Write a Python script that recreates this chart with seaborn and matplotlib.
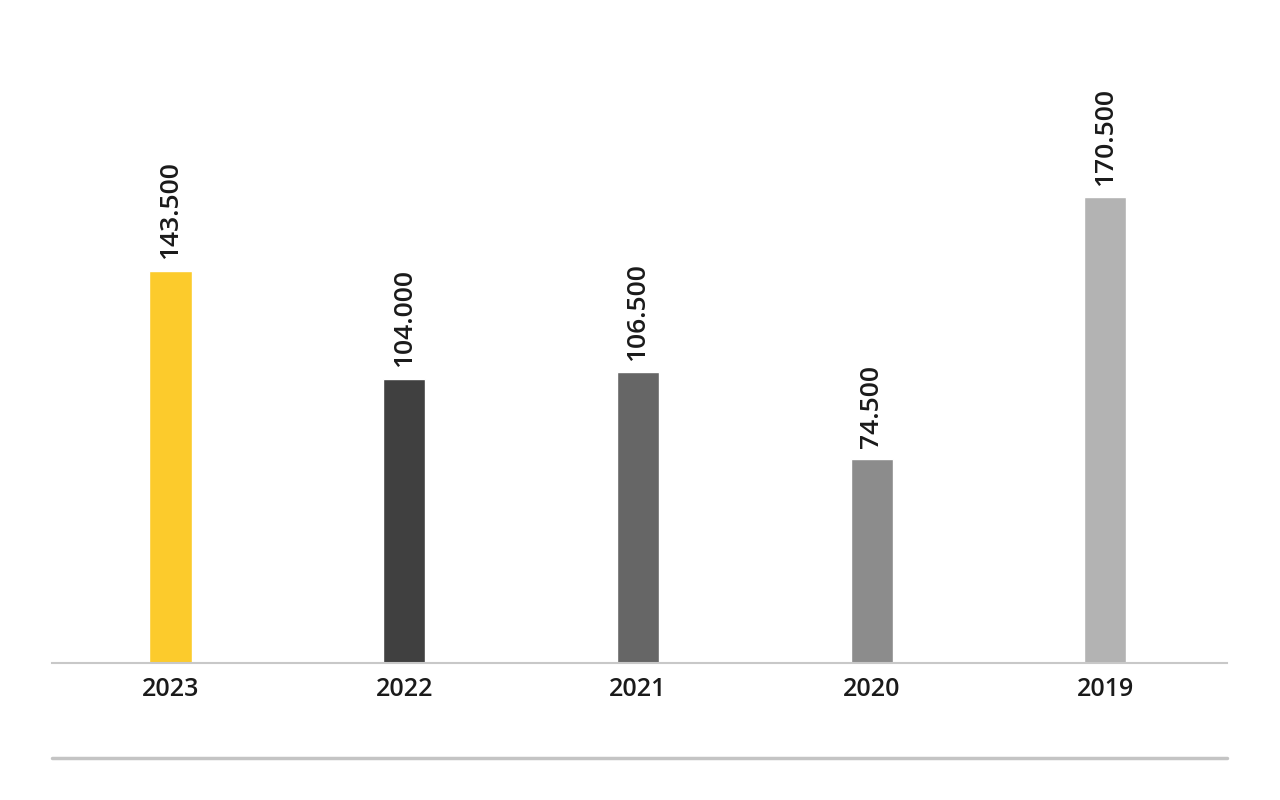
"""
plot.py

Yearly values as narrow bars with rotated value labels.
"""

import matplotlib.pyplot as plt
import pandas as pd
import seaborn as sns
from matplotlib.lines import Line2D

years = ["2023", "2022", "2021", "2020", "2019"]
values = [143.5, 104.0, 106.5, 74.5, 170.5]
labels = ["143.500", "104.000", "106.500", "74.500", "170.500"]
colors = ["#FCCB2C", "#404040", "#666666", "#8C8C8C", "#B3B3B3"]


def main():
    sns.set_theme(style="white")
    plt.rcParams["font.family"] = ["Open Sans", "DejaVu Sans"]

    df = pd.DataFrame({"Year": years, "Value": values})

    fig = plt.figure(figsize=(12.8, 8), dpi=100)
    ax = fig.add_axes([52 / 1280, 137 / 800, 1175 / 1280, 663 / 800])

    sns.barplot(data=df, x="Year", y="Value", hue="Year", palette=colors,
                width=0.18, legend=False, saturation=1, ax=ax)

    for i, (v, lab) in enumerate(zip(values, labels)):
        ax.annotate(lab, (i, v), xytext=(0, 8), textcoords="offset points",
                    rotation=90, ha="center", va="bottom",
                    fontsize=19, fontweight="semibold", color="#1a1a1a")

    ax.set_xlim(-0.507, 4.52)
    ax.set_ylim(0, 242.4)
    ax.set_xlabel("")
    ax.set_ylabel("")
    ax.set_yticks([])
    ax.tick_params(axis="x", length=0, pad=10, labelsize=18,
                   labelcolor="#1a1a1a")
    for t in ax.get_xticklabels():
        t.set_fontweight("semibold")
    for side in ["top", "left", "right"]:
        ax.spines[side].set_visible(False)
    ax.spines["bottom"].set_color("#C8C8C8")
    ax.spines["bottom"].set_linewidth(1.5)

    # grey rule beneath the chart
    fig.add_artist(Line2D([52 / 1280, 1227 / 1280], [42 / 800, 42 / 800],
                          color="#C4C4C4", linewidth=2.5,
                          transform=fig.transFigure))

    fig.savefig("out.png", dpi=100, facecolor="white")


if __name__ == "__main__":
    main()
